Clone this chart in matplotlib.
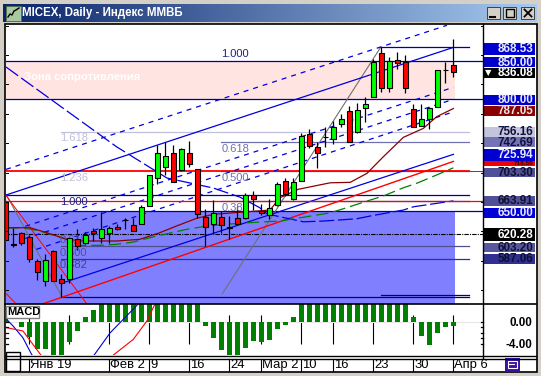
import numpy as np
import matplotlib
matplotlib.use('Agg')
import matplotlib.pyplot as plt
from matplotlib.patches import Rectangle

plt.rcParams['font.family'] = ['Liberation Sans', 'DejaVu Sans']

# candles, index 0 is the first visible day
opens = [663, 606.5, 620.6, 615.7, 583.7, 557.4, 597, 559.3, 560, 613.4, 608, 624, 614.8, 620.6, 628.6, 638.4, 631.3, 632.6, 657,
         694, 708.6, 727.3, 705, 727.3, 706, 642.8, 632.6, 642, 629, 640.6, 640.6, 671.3, 650, 644.6, 658, 690.4, 666.8, 690.8, 752.6,
         736, 748.6, 746, 766.4, 783.7, 755.3, 788.1, 802.8, 860.6, 814.8, 851.7, 849.4, 786, 764.1, 773.4, 789.4, 838, 844.6]
closes = [612, 605, 608, 586.8, 569, 584.6, 557.4, 554, 614, 603.7, 618.8, 620.6, 626, 627.3, 626, 637.8, 623.3, 656.1, 698.4,
          727.3, 724.1, 689.4, 732.6, 712.6, 647, 628.6, 647.3, 632, 628, 633.4, 672, 666, 647.3, 654.8, 686.4, 672.6, 688.6, 750.4, 737.4,
          728, 749.4, 762.8, 772.6, 742.8, 784.6, 792.6, 849.4, 814.8, 850.8, 848.1, 814.8, 762.8, 772.6, 787.3, 838, 838.8, 836.08]
highs = [668, 628, 622.4, 618, 586.8, 593, 598.4, 566, 614.8, 626, 622.4, 628, 649, 630.4, 632.6, 641.4, 641.4, 658, 698.4,
         738.4, 742.8, 738.4, 734, 743.7, 706, 652.6, 665, 650.4, 643.7, 657, 674, 676.6, 659.3, 666, 689, 694.4, 694.4, 754, 759.3,
         742.8, 762, 770.8, 779.7, 790.4, 794.8, 802, 852.6, 868.53, 855.3, 862.4, 858.4, 793, 793, 789.4, 838, 849.4, 879.3]
lows = [612, 603, 605.4, 582.4, 558, 550.4, 557, 536, 554, 598.4, 606, 610.4, 607.3, 607.3, 625, 626.8, 623.3, 632.6, 657,
        686.4, 698.4, 689.4, 704, 709.4, 641, 603.7, 620.6, 620.6, 612.6, 632.6, 639.3, 651.7, 644.6, 639.3, 657, 670.4, 665, 690.4, 734,
        707.3, 736, 739.7, 762, 742.8, 754, 769.4, 802.8, 809.4, 809.4, 839.7, 808.1, 762.8, 763.7, 759.3, 789.4, 821.4, 828.6]

# macd histogram, values past the panel edge are cut off by the axes
macd_hist = [1.8, 0, -0.9, -2.8, -4.9, -5, -7, -7, -3.7, -1.7, 1, 2.2, 4, 4, 4, 4, 4, 4, 4, 4, 4, 4, 4, 4, 4,
             -0.75, -3, -5.2, -7, -7, -4.8, -3.5, -3.7, -3.3, -1.2, -0.55, 0.9, 4, 4, 4, 4, 4, 4, 4, 4, 4, 4, 4, 4, 4, 4,
             0.9, -2.6, -4.2, -2.1, -0.9, -0.7]
macd_x = [0.17, 0.98, 2.2, 3.3, 7, 11.1, 13.1, 14.75, 16.6, 19]
macd_y = [0.5, -0.75, -2.9, -6, -12, -6.1, -2, 0.5, 3.3, 8]
signal_x = [0.17, 2.2, 3.9, 4.5, 9, 13.5, 16, 17.7, 18.7, 21]
signal_y = [-1.05, -1.65, -5, -6.2, -12, -6.1, -3.2, 0.2, 3.3, 8]

# moving averages
ma_red_x = [0.17, 3.1, 5.2, 7.7, 9.75, 13.9, 16.8, 19.3, 21.4, 23.9, 26, 28.5, 33.1, 34.3, 36.6, 40.6, 43.1, 45.2, 47.25, 49.75, 52.25, 53.9, 56]
ma_red_y = [628.1, 628.1, 621.4, 612.6, 610.4, 610.4, 612.6, 621.4, 630.4, 640.6, 646, 648, 651.7, 668, 679.3, 688, 688.6, 700.6, 722.8, 748.6, 760.6, 776.1, 787.05]
ma_green_x = [0.17, 2.25, 4.3, 7.7, 9.3, 11.8, 13.9, 16, 18.9, 22.7, 25.2, 28.5, 31.8, 34.3, 37.7, 40.6, 42.25, 45.6, 47.25, 49.75, 51.4, 53.9, 56]
ma_green_y = [628, 628, 623.7, 612.6, 604.6, 604.6, 606, 609, 617, 626, 630.4, 633.4, 635.7, 637, 642.8, 648, 653.4, 665, 670.4, 681.4, 687.3, 698.4, 708]
ma_blue_x = [0.09, 13.9, 20.2, 26, 29.3, 31.8, 32.7, 37.25, 39.75, 43.9, 45.6, 49.75, 51, 56]
ma_blue_y = [842.4, 736.1, 694.4, 681, 669, 654.8, 646.5, 636, 637, 640, 643.7, 651.7, 656, 663.91]

# channels as (i0, p0, i1, p1)
channels_solid = [(0.09, 671.7, 56, 868.53), (7.25, 554.8, 56, 725.94)]
channels_dash = [(0.09, 705.9, 55.2, 898), (2.5, 630, 56, 815.3), (2.5, 613.8, 56, 799.3), (3.9, 599.3, 56, 782.6)]
channel_red = (4.75, 526.8, 56, 716.5)
grey_lines = [(0.15, 671.7, 7.1, 535.7), (27.1, 539.7, 46.9, 868.53)]
red_thin = [(0.17, 539.7, 1.4, 526), (0.09, 671, 10.2, 526.5)]

# horizontal levels: price, start, end, colour
levels = [(868.53, 47, 57.9, '#0000A0'), (850, 0, 59.7, '#0000A0'), (800, 0, 59.7, '#0000A0'), (650, 0, 59.7, '#0000A0'),
          (756.16, 7, 57.9, '#C0C0DC'), (742.69, 27, 57.9, '#7070B0'), (703.3, 27, 57.9, '#505098'),
          (671.3, 0, 57.9, '#000090'), (663.91, 27, 57.9, '#505098'), (603.2, 7, 57.9, '#505090'),
          (587.06, 7, 57.9, '#303090'), (537.9, 47, 57.9, '#000080'), (535.3, 7, 57.9, '#000080')]

grid_i = [3, 8, 13, 18, 23, 28, 32, 37, 41, 46, 51, 56]
date_i = [3, 13, 18, 23, 28, 32, 37, 41, 46, 51, 56]
date_labels = ['Янв 19', 'Фев 2', '9', '16', '24', 'Мар 2', '10', '16', '23', '30', 'Апр 6']

fib_left = [('1.618', 756.16, '#C0C0DC'), ('1.236', 703.3, '#C0C0DC'), ('1.000', 671.3, '#202080'),
            ('0.618', 620.28, '#505090'), ('0.500', 603.2, '#505090'), ('0.382', 587.06, '#404088')]
fib_right = [('1.000', 850, '#202080'), ('0.618', 742.69, '#7070B0'), ('0.500', 703.3, '#7070B0'), ('0.382', 663.91, '#7070B0')]

# side labels in drawing order, the red one sits behind its neighbours
side_values = ['718.59', '868.53', '850.00', '836.08', '800.00', '787.05', '756.16', '742.69', '725.94', '703.30', '663.91', '650.00', '620.28', '603.20', '587.06']
side_top = [161, 43.3, 57.3, 68.3, 94.5, 106, 126.7, 137.3, 149, 167.7, 196, 207.7, 228.3, 242.7, 254.3]
side_bot = [166, 55, 67.3, 78.3, 104.5, 115.7, 136.7, 147.3, 161, 177.3, 206, 217.7, 241, 252, 264.3]
side_bg = ['#F00000', '#0000D0', '#0000C8', '#000000', '#0000C8', '#8B0000', '#C4C4DC', '#7474B4', '#0000D0', '#505098', '#505098', '#0000D8', '#000000', '#5858A0', '#303090']
side_fg = ['#400000', '#E8E8FF', '#E8E8FF', 'white', '#E8E8FF', '#E8E8E8', '#101040', '#101040', '#E8E8FF', '#101030', '#101030', '#E8E8FF', 'white', '#101030', '#101030']

W, H = 541, 376
fig = plt.figure(figsize=(W / 100, H / 100), dpi=100, facecolor='#D4D0C8')

def px_axes(left, top, right, bottom):
    return fig.add_axes([left / W, 1 - bottom / H, (right - left) / W, (bottom - top) / H])

# window parts behind the panels
ui = px_axes(0, 0, W, H)
ui.axis('off')
grad = np.linspace(0, 1, 256).reshape(1, -1, 1)
c0, c1 = np.array([10, 36, 106]) / 255, np.array([166, 202, 240]) / 255
ui.imshow(c0 + grad * (c1 - c0), extent=(3, 537, 22, 4), aspect='auto', zorder=1)
ui.set_xlim(0, W)
ui.set_ylim(H, 0)
ui.add_patch(Rectangle((4.5, 24), 532, 347.5, fc='white', ec='black', lw=1.2, zorder=2))
ui.add_patch(Rectangle((6, 5.5), 15, 15.5, fc='#A8C8A0', ec='#507050', lw=0.7, zorder=3))
ui.plot([8, 10, 12, 14, 16, 19], [17, 14, 15, 11, 10, 8], color='black', lw=1, zorder=4)
ui.text(22.5, 13.2, 'MICEX, Daily - Индекс ММВБ', color='white', fontsize=8.3, fontweight='bold', va='center', zorder=4)
for bx in [486.7, 503.3, 520.7]:
    ui.add_patch(Rectangle((bx, 6.7), 13, 12.6, fc='#D4D0C8', ec='#404040', lw=0.7, zorder=3))
ui.plot([490, 495], [16.5, 16.5], color='black', lw=1.5, zorder=4)
ui.add_patch(Rectangle((506, 9), 8, 8, fc='none', ec='black', lw=1, zorder=4))
ui.plot([524.5, 531.5], [9.5, 16.5], color='black', lw=1.3, zorder=4)
ui.plot([524.5, 531.5], [16.5, 9.5], color='black', lw=1.3, zorder=4)

# price panel
ax = px_axes(6, 25, 483, 304)
ax.set_xlim(0.09, 59.7)
ax.set_ylim(526.4, 898.4)
ax.axis('off')
ax.patch.set_visible(False)
ax.set_zorder(3)

gx, gy = np.meshgrid(grid_i, np.arange(540, 890, 20))
ax.scatter(gx.ravel(), gy.ravel(), s=0.45, c='black', marker='s', linewidths=0, zorder=1)

ax.add_patch(Rectangle((0, 800), 56.2, 50, fc='#FFE4E1', ec='none', zorder=1.5))
ax.add_patch(Rectangle((0, 500), 56.2, 150, fc='#8080FF', ec='none', zorder=1.5))
ax.text(2.35, 829.5, 'Зона сопротивления', color='white', fontsize=8.1, fontweight='bold', va='center', zorder=2)

for p, i0, i1, col in levels:
    ax.plot([i0, i1], [p, p], color=col, lw=0.9, zorder=3)
ax.plot([0, 57.9], [704, 704], color='#FF0000', lw=1.3, zorder=3)
ax.plot([57.9, 59.7], [704, 704], color='#FF0000', lw=0.7, zorder=3)
ax.plot([0, 59.7], [663.6, 663.6], color='#FF0000', lw=0.9, zorder=3.1)
ax.plot([0, 59.7], [620.28, 620.28], color='black', lw=0.8, dashes=(4, 1, 1, 1), zorder=3)

for i0, p0, i1, p1 in grey_lines:
    ax.plot([i0, i1], [p0, p1], color='#707070', lw=0.8, zorder=3)
for i0, p0, i1, p1 in red_thin:
    ax.plot([i0, i1], [p0, p1], color='#FF0000', lw=0.7, zorder=3)
for i0, p0, i1, p1 in channels_solid:
    ax.plot([i0, i1], [p0, p1], color='#0000E0', lw=0.9, zorder=3)
for i0, p0, i1, p1 in channels_dash:
    ax.plot([i0, i1], [p0, p1], color='#0000E0', lw=0.9, dashes=(4, 4), zorder=3)
ax.plot(channel_red[::2], channel_red[1::2], color='#FF0000', lw=1, zorder=3)
ax.plot(ma_blue_x, ma_blue_y, color='#0000E0', lw=0.9, dashes=(12, 3), zorder=3)
ax.plot(ma_green_x, ma_green_y, color='#008000', lw=0.9, dashes=(10, 4), zorder=3)
ax.plot(ma_red_x, ma_red_y, color='#8B0000', lw=0.9, zorder=3)

idx = np.arange(len(opens))
o, c = np.array(opens), np.array(closes)
ax.vlines(idx, lows, highs, color='black', lw=0.9, zorder=4)
cols = ['black' if abs(a - b) < 1.2 else ('#00FF00' if b > a else '#FF0000') for a, b in zip(o, c)]
ax.bar(idx, np.abs(c - o), bottom=np.minimum(o, c), width=0.6, color=cols, edgecolor='black', linewidth=0.8, zorder=5)

for name, p, col in fib_left:
    ax.text(6.85, p - 9, name, color=col, fontsize=8, va='center', zorder=4.5)
for name, p, col in fib_right:
    ax.text(27, p - 9 if name != '1.000' else p + 10, name, color=col, fontsize=8, va='center', zorder=4.5)

# macd panel
mx = px_axes(6, 304, 483, 355.3)
mx.set_xlim(0.09, 59.7)
mx.set_ylim(-6.14, 3.32)
mx.axis('off')
mx.patch.set_visible(False)
mx.set_zorder(3)
dx, dy = np.meshgrid(np.arange(0, 57), [1, -1, -2, -3, -4])
mx.scatter(dx.ravel(), dy.ravel(), s=0.3, c='black', marker='s', linewidths=0, zorder=1)
mx.vlines(grid_i, -4.1, 1.3, color='black', lw=0.8, zorder=1)
mx.axhline(0, color='#E8E8E8', lw=0.8, zorder=1)
mx.bar(idx, macd_hist, width=0.65, color='#008000', linewidth=0, zorder=2)
mx.plot(macd_x, macd_y, color='#0000E0', lw=0.8, zorder=3)
mx.plot(signal_x, signal_y, color='#FF0000', lw=0.8, zorder=3)

# everything in front: frames, side labels, date strip
top = px_axes(0, 0, W, H)
top.set_xlim(0, W)
top.set_ylim(H, 0)
top.axis('off')
top.patch.set_visible(False)
top.set_zorder(5)
top.plot([483.3, 483.3], [24, 358], color='black', lw=1)
top.plot([5, 536], [304.2, 304.2], color='black', lw=1.2)
top.plot([5, 536], [355.5, 355.5], color='black', lw=1)
top.plot([5, 536], [358.8, 358.8], color='black', lw=1)
for y0 in np.arange(25.7, 304, 29.4):
    top.plot([6, 8], [y0, y0], color='black', lw=0.7)
    top.plot([481, 483], [y0, y0], color='black', lw=0.7)
for y0 in np.arange(322, 346, 5.4):
    top.plot([6, 8], [y0, y0], color='black', lw=0.9)
    top.plot([481, 483], [y0, y0], color='black', lw=0.9)

top.add_patch(Rectangle((6, 352), 13.5, 19, fc='white', ec='black', lw=1))
top.add_patch(Rectangle((6, 306), 33, 12, fc='white', ec='#808080', lw=1))
top.text(7, 312, 'MACD', fontsize=8, fontweight='bold', color='black', va='center')

for i, lab in zip(date_i, date_labels):
    xx = 5.3 + 8 * i
    top.plot([xx, xx], [358.8, 371], color='black', lw=0.8)
    top.text(xx + 1.2, 365.3, lab, fontsize=9.4, color='black', va='center')

for val, y0, y1, bg, fg in zip(side_values, side_top, side_bot, side_bg, side_fg):
    top.add_patch(Rectangle((483.7, y0), 51.3, y1 - y0, fc=bg, ec='none'))
    # the red label only has a sliver of room
    size = 4.6 if val == '718.59' else 8.4
    top.text(533.3, (y0 + y1) / 2 + 0.2, val, fontsize=size, fontweight='bold', color=fg, ha='right', va='center')
top.text(488, 73, '▼', fontsize=6, color='white', ha='center', va='center', family='DejaVu Sans')
top.text(532, 322.5, '0.00', fontsize=8.4, fontweight='bold', color='black', ha='right', va='center')
top.text(532, 344.5, '-4.00', fontsize=8.4, fontweight='bold', color='black', ha='right', va='center')

top.add_patch(Rectangle((504.5, 357.5), 15.5, 13, fc='#3A10A8', ec='none'))
top.add_patch(Rectangle((507.5, 360.5), 9.5, 7, fc='none', ec='white', lw=0.8))
top.plot([509, 514], [364, 364], color='white', lw=0.8)

fig.savefig('out.png', dpi=100, facecolor=fig.get_facecolor())
